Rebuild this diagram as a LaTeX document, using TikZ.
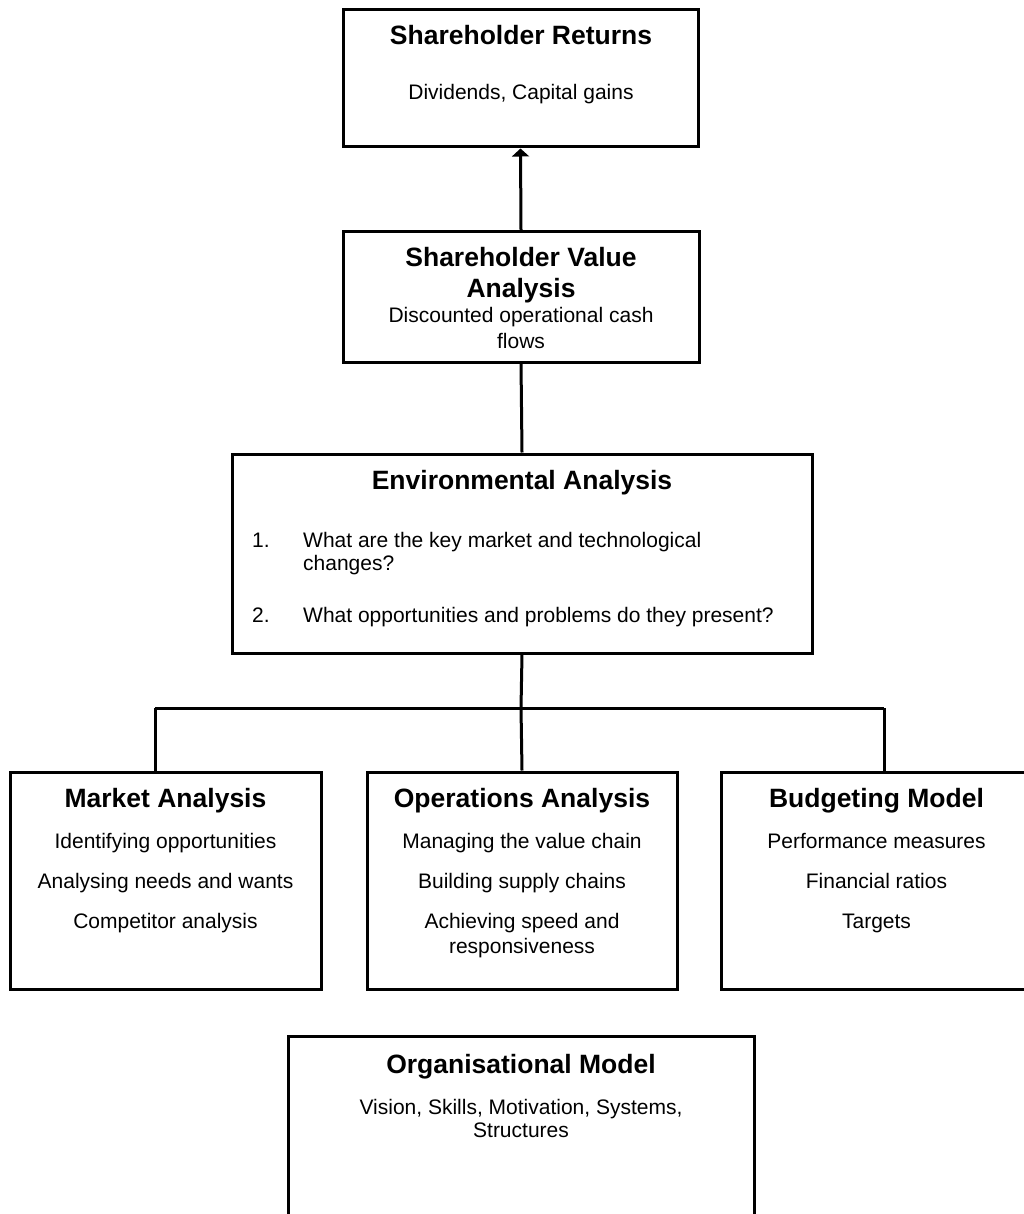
\documentclass[tikz,border=0pt]{standalone}
\usepackage{fontspec}
\setmainfont{Liberation Sans}
\usetikzlibrary{arrows.meta}

\begin{document}
\begin{tikzpicture}[x=1pt,y=-1pt,
  box/.style={draw=black, line width=3pt, fill=none, inner sep=0pt},
  conn/.style={draw=black, line width=3pt},
  ttl/.style={anchor=base, inner sep=0pt, font=\fontsize{26.5}{31}\selectfont\bfseries},
  txt/.style={anchor=base, inner sep=0pt, font=\fontsize{21}{25}\selectfont},
  txtl/.style={anchor=base west, inner sep=0pt, font=\fontsize{21}{25}\selectfont}]
\useasboundingbox (0,0) rectangle (1023,1214);

% boxes
\node[box, minimum width=355pt, minimum height=137pt] (sr)  at (520.5,78.5) {};
\node[box, minimum width=356pt, minimum height=130pt] (sva) at (521,297) {};
\node[box, minimum width=580pt, minimum height=199pt] (env) at (522,553.5) {};
\node[box, minimum width=311pt, minimum height=217pt] (ma)  at (165.5,880.5) {};
\node[box, minimum width=310pt, minimum height=217pt] (oa)  at (522,880.5) {};
\node[box, minimum width=311pt, minimum height=217pt] (bm)  at (876.5,880.5) {};
\node[box, minimum width=466pt, minimum height=210pt] (om)  at (521,1141) {};

% Shareholder Returns
\node[ttl] (sr-t) at (521,45) {Shareholder Returns};
\node[txt] (sr-1) at (521,100) {Dividends, Capital gains};

% Shareholder Value Analysis
\node[ttl] (sva-t1) at (521,267) {Shareholder Value};
\node[ttl] (sva-t2) at (521,298) {Analysis};
\node[txt] (sva-1) at (521,323) {Discounted operational cash};
\node[txt] (sva-2) at (521,348) {flows};

% Environmental Analysis
\node[ttl]  (env-t)  at (522,489) {Environmental Analysis};
\node[txtl] (env-n1) at (252,547) {1.};
\node[txtl] (env-1a) at (303,547) {What are the key market and technological};
\node[txtl] (env-1b) at (303,570) {changes?};
\node[txtl] (env-n2) at (252,622) {2.};
\node[txtl] (env-2)  at (303,622) {What opportunities and problems do they present?};

% Market Analysis
\node[ttl] (ma-t) at (165.5,807) {Market Analysis};
\node[txt] (ma-1) at (165.5,848) {Identifying opportunities};
\node[txt] (ma-2) at (165.5,888) {Analysing needs and wants};
\node[txt] (ma-3) at (165.5,928) {Competitor analysis};

% Operations Analysis
\node[ttl] (oa-t) at (522,807) {Operations Analysis};
\node[txt] (oa-1) at (522,848) {Managing the value chain};
\node[txt] (oa-2) at (522,888) {Building supply chains};
\node[txt] (oa-3) at (522,928) {Achieving speed and};
\node[txt] (oa-4) at (522,953) {responsiveness};

% Budgeting Model
\node[ttl] (bm-t) at (876.5,807) {Budgeting Model};
\node[txt] (bm-1) at (876.5,848) {Performance measures};
\node[txt] (bm-2) at (876.5,888) {Financial ratios};
\node[txt] (bm-3) at (876.5,928) {Targets};

% Organisational Model
\node[ttl] (om-t) at (521,1073) {Organisational Model};
\node[txt] (om-1) at (521,1114) {Vision, Skills, Motivation, Systems,};
\node[txt] (om-2) at (521,1137) {Structures};

% connectors
\draw[conn, -{Triangle[width=17pt,length=8pt]}] (sva.north) -- (sr.south);
\draw[conn] (sva.south) -- (env.north);
\coordinate (bus)  at (521,708);
\coordinate (busl) at (155,708);
\coordinate (busr) at (884,708);
\draw[conn] (env.south) -- (bus);
\draw[conn] (busl) -- (busr);
\draw[conn] (busl) -- (busl |- ma.north);
\draw[conn] (bus)  -- (oa.north);
\draw[conn] (busr) -- (busr |- bm.north);
\end{tikzpicture}
\end{document}
